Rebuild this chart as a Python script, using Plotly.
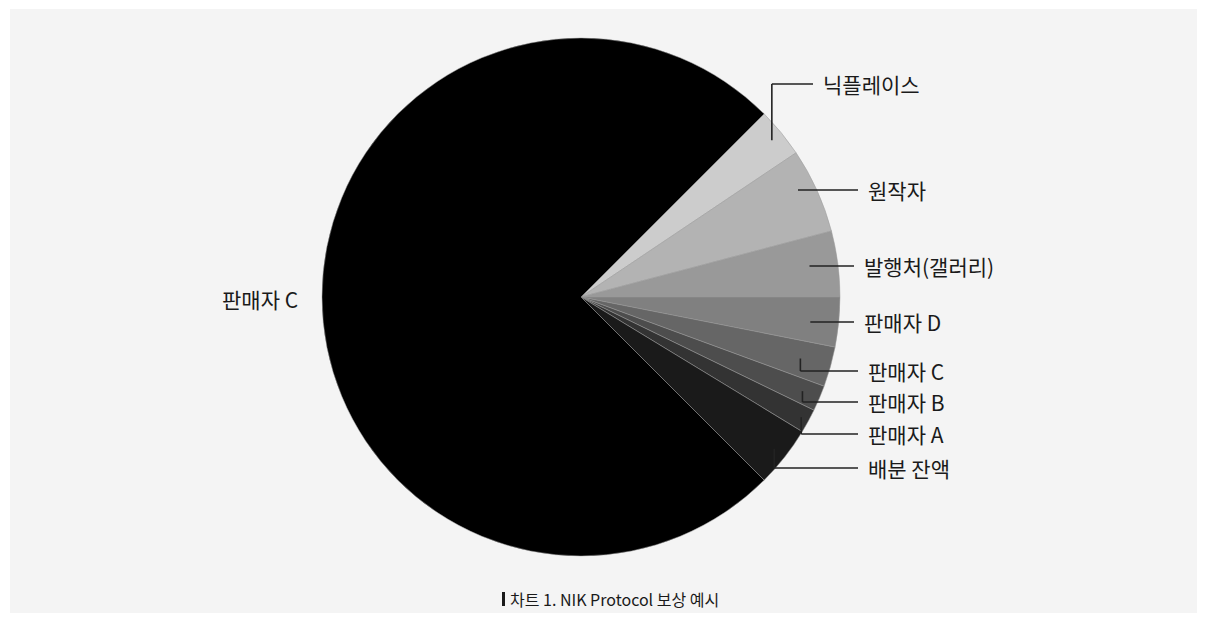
import math
import plotly.graph_objects as go

# Reward split (percent of sale price), clockwise from the upper right
names = ["닉플레이스", "원작자", "발행처(갤러리)", "판매자 D", "판매자 C",
         "판매자 B", "판매자 A", "배분 잔액", "판매자 C"]
values = [3.1, 5.3, 4.1, 3.1, 2.5, 1.6, 1.5, 3.8, 75.0]
colors = ["#cccccc", "#b3b3b3", "#999999", "#808080", "#666666",
          "#4d4d4d", "#333333", "#1a1a1a", "#000000"]

# Label layout for the small slices (pixel space)
leader_r = [0.965, 0.93, 0.90, 0.90, 0.89, 0.94, 0.98, 0.96]
elbow = [True, False, False, False, True, True, True, True]
label_y = [84, 190, 266, 322, 371, 402, 434, 468]
line_end_x = [813, 858, 854, 854, 858, 858, 858, 858]

W, H = 1207, 622
CX, CY, R = 581, 297, 259
START = 45  # degrees, first slice begins at the 1:30 position

def px(x):
    return x / W

def py(y):
    return 1 - y / H

fig = go.Figure()
fig.add_trace(go.Pie(
    labels=[f"s{i}" for i in range(len(values))],
    values=values,
    text=names,
    sort=False,
    direction="clockwise",
    rotation=START,
    textinfo="none",
    hovertemplate="%{text}: %{value}%<extra></extra>",
    marker=dict(colors=colors, line=dict(color="#9a9a9a", width=0.5)),
    domain=dict(x=[px(CX - R), px(CX + R)], y=[py(CY + R), py(CY - R)]),
    showlegend=False,
))

shapes = [
    # panel background
    dict(type="rect", xref="paper", yref="paper", layer="below",
         x0=px(10), x1=px(1197), y0=py(613), y1=py(9),
         fillcolor="#f4f4f4", line=dict(width=0)),
    # caption marker bar
    dict(type="rect", xref="paper", yref="paper",
         x0=px(502), x1=px(505), y0=py(606), y1=py(592),
         fillcolor="#1a1a1a", line=dict(width=0)),
]
annotations = []
font = dict(family="Noto Sans CJK KR", size=21, color="#1a1a1a")

Rd = 256  # drawn radius used for leader anchors
total = sum(values)
cum = 0.0
for i, v in enumerate(values):
    mid = math.radians(START - 360 * (cum + v / 2) / total)
    cum += v
    if i >= len(leader_r):
        continue
    ax = CX + leader_r[i] * Rd * math.cos(mid)
    ay = CY - leader_r[i] * Rd * math.sin(mid)
    ly = label_y[i]
    line = dict(color="#222222", width=1.6)
    if elbow[i]:
        shapes.append(dict(type="line", xref="paper", yref="paper",
                           x0=px(ax), y0=py(ay), x1=px(ax), y1=py(ly), line=line))
    shapes.append(dict(type="line", xref="paper", yref="paper",
                       x0=px(ax), y0=py(ly), x1=px(line_end_x[i]), y1=py(ly), line=line))
    annotations.append(dict(xref="paper", yref="paper", x=px(line_end_x[i] + 8), y=py(ly),
                            text=names[i], showarrow=False, xanchor="left",
                            yanchor="middle", font=font))

# label for the dominant slice
annotations.append(dict(xref="paper", yref="paper", x=px(300), y=py(299),
                        text=names[-1], showarrow=False, xanchor="right",
                        yanchor="middle", font=font))

# caption
annotations.append(dict(xref="paper", yref="paper", x=px(508), y=py(599),
                        text="차트 1. NIK Protocol 보상 예시", showarrow=False,
                        xanchor="left", yanchor="middle",
                        font=dict(family="Noto Sans CJK KR", size=16, color="#1a1a1a")))

fig.update_layout(
    width=W, height=H,
    margin=dict(l=0, r=0, t=0, b=0),
    paper_bgcolor="#ffffff",
    plot_bgcolor="#ffffff",
    shapes=shapes,
    annotations=annotations,
)

fig.write_html("out.html")
